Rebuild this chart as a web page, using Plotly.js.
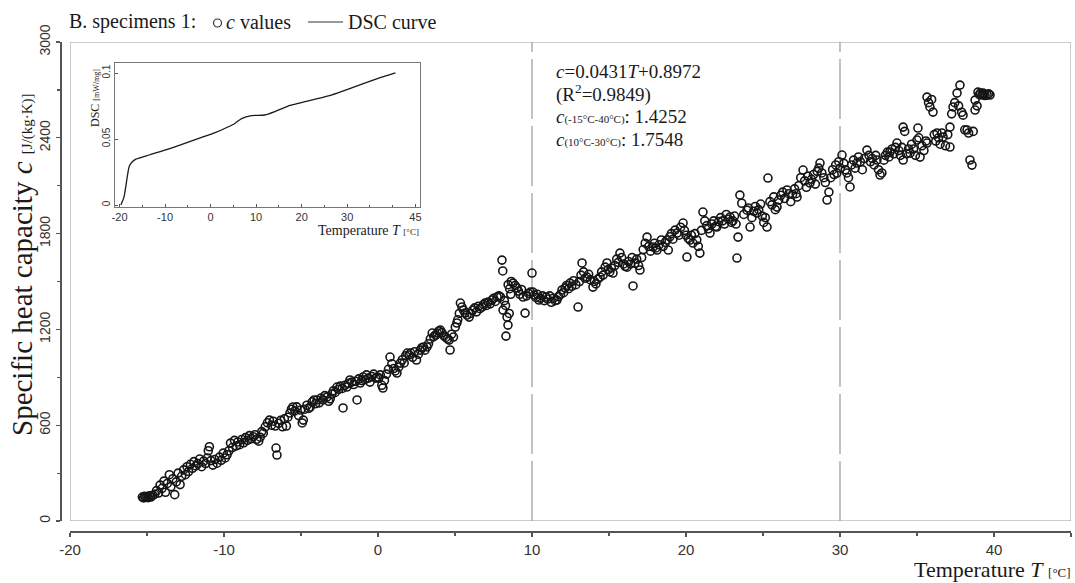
<!DOCTYPE html>
<html><head><meta charset="utf-8">
<script src="https://cdn.plot.ly/plotly-3.0.1.min.js"></script>
<style>html,body{margin:0;padding:0;background:#fff}#chart{width:1075px;height:583px}</style>
</head><body><div id="chart"></div>
<script>
// Temperature T [°C] of each measured c value
const tempC = [
-15.30,-15.22,-15.15,-15.08,-15.00,-14.92,-14.85,-14.75,-14.62,-14.50,
-14.38,-14.25,-14.15,-14.02,-13.90,-13.80,-13.68,-13.55,-13.45,
-13.32,-13.20,-13.10,-12.98,-12.85,-12.75,-12.62,-12.50,-12.40,
-12.30,-12.18,-12.05,-11.95,-11.82,-11.70,-11.58,-11.45,-11.32,
-11.20,-11.08,-11.02,-10.95,-10.85,-10.72,-10.60,-10.45,-10.30,
-10.18,-10.05,-9.92,-9.80,-9.68,-9.58,-9.45,-9.32,-9.20,
-9.10,-8.98,-8.85,-8.72,-8.60,-8.48,-8.35,-8.22,-8.10,
-8.00,-7.88,-7.75,-7.65,-7.55,-7.45,-7.32,-7.18,-7.05,
-6.92,-6.80,-6.68,-6.62,-6.56,-6.45,-6.32,-6.20,-6.08,
-5.95,-5.85,-5.72,-5.62,-5.52,-5.40,-5.28,-5.15,-5.02,
-4.92,-4.85,-4.75,-4.62,-4.50,-4.40,-4.28,-4.15,-4.05,
-3.95,-3.82,-3.70,-3.57,-3.45,-3.32,-3.20,-3.10,-3.00,
-2.90,-2.78,-2.66,-2.55,-2.45,-2.32,-2.27,-2.15,-2.02,
-1.92,-1.82,-1.70,-1.58,-1.45,-1.36,-1.25,-1.15,-1.05,
-0.97,-0.85,-0.75,-0.62,-0.52,-0.40,-0.28,-0.15,-0.05,
0.05,0.15,0.25,0.32,0.42,0.55,0.68,0.78,0.90,
1.02,1.12,1.23,1.35,1.45,1.58,1.70,1.80,1.90,
2.02,2.12,2.25,2.38,2.50,2.62,2.75,2.85,2.95,
3.05,3.18,3.28,3.40,3.52,3.62,3.75,3.85,3.95,
4.05,4.15,4.28,4.40,4.52,4.62,4.68,4.78,4.90,
5.02,5.12,5.18,5.28,5.35,5.45,5.55,5.65,5.78,5.92,
6.02,6.15,6.28,6.40,6.52,6.62,6.75,6.85,6.95,
7.05,7.15,7.28,7.40,7.50,7.62,7.73,7.85,7.95,
8.05,8.10,8.12,8.20,8.28,8.31,8.38,8.44,8.45,8.52,8.55,8.62,8.65,8.77,8.90,
9.03,9.12,9.22,9.32,9.42,9.55,9.65,9.78,9.90,10.00,
10.06,10.15,10.25,10.35,10.45,10.55,10.68,10.80,10.92,
11.02,11.15,11.25,11.38,11.50,11.62,11.72,11.85,11.95,
12.05,12.15,12.25,12.38,12.47,12.58,12.70,12.85,12.99,
13.08,13.18,13.25,13.35,13.45,13.57,13.68,13.80,13.96,
14.05,14.15,14.28,14.42,14.52,14.62,14.75,14.87,14.95,
15.05,15.15,15.26,15.38,15.50,15.60,15.71,15.82,15.95,
16.05,16.17,16.28,16.40,16.50,16.56,16.68,16.80,16.92,
17.01,17.12,17.22,17.35,17.47,17.58,17.70,17.86,17.95,
18.05,18.12,18.25,18.40,18.52,18.65,18.77,18.85,18.95,
19.05,19.15,19.29,19.42,19.55,19.65,19.81,19.90,20.00,
20.06,20.15,20.26,20.35,20.45,20.58,20.70,20.80,20.90,
21.00,21.10,21.22,21.35,21.45,21.56,21.68,21.80,21.92,
22.00,22.12,22.25,22.38,22.50,22.62,22.75,22.86,22.95,
23.05,23.15,23.25,23.31,23.38,23.50,23.62,23.75,23.96,
24.05,24.16,24.28,24.40,24.50,24.61,24.72,24.85,24.95,
25.05,25.15,25.26,25.32,25.45,25.58,25.70,25.80,25.91,
26.02,26.15,26.28,26.40,26.56,26.68,26.80,26.92,27.05,
27.15,27.21,27.32,27.45,27.60,27.70,27.82,27.92,28.05,
28.15,28.28,28.40,28.52,28.62,28.70,28.82,28.95,29.05,
29.16,29.28,29.40,29.52,29.62,29.72,29.80,29.92,30.02,
30.13,30.25,30.35,30.45,30.55,30.65,30.75,30.88,30.98,
31.10,31.20,31.32,31.45,31.58,31.75,31.88,31.98,32.10,
32.22,32.32,32.40,32.50,32.60,32.72,32.85,32.95,33.08,
33.18,33.25,33.38,33.50,33.60,33.70,33.82,33.92,34.02,
34.10,34.10,34.20,34.32,34.45,34.55,34.65,34.78,34.90,35.00,
35.06,35.12,35.20,35.32,35.45,35.58,35.65,35.65,35.75,35.84,
35.95,36.04,36.12,36.22,36.30,36.40,36.50,36.62,36.69,36.85,
37.00,37.14,37.14,37.25,37.34,37.45,37.60,37.70,37.79,37.90,
37.99,38.10,38.25,38.35,38.44,38.57,38.65,38.77,38.77,38.90,
38.96,39.05,39.12,39.22,39.29,39.35,39.42,39.55,39.65,39.74
];
// Specific heat capacity c [J/(kg·K)]
const heatCap = [
150,145,155,148,152,146,158,150,160,168,
190,175,225,205,250,180,235,290,215,
265,165,245,300,228,280,320,290,340,
310,355,330,372,345,360,388,340,375,
360,395,440,465,378,350,385,362,400,
380,425,395,415,440,488,460,505,470,
495,478,510,490,522,505,535,515,528,
540,512,500,525,560,550,590,615,632,
600,625,595,457,413,612,630,590,640,
595,650,676,700,714,690,715,660,695,
614,632,700,725,705,714,745,758,735,
758,740,770,758,785,776,750,765,795,
815,805,839,825,845,830,708,850,839,
862,883,870,855,875,758,890,864,880,
902,885,915,895,870,905,920,895,902,
895,915,850,833,880,920,950,1027,985,
955,940,927,965,989,1010,990,1035,1052,
1040,1052,1025,1060,1008,1045,1070,1085,1090,
1070,1090,1110,1140,1177,1155,1165,1177,1190,
1196,1180,1160,1150,1140,1133,1071,1170,1152,
1215,1240,1260,1300,1365,1340,1321,1302,1290,1277,
1300,1321,1335,1310,1345,1330,1340,1355,1365,
1350,1372,1360,1384,1395,1375,1403,1410,1403,
1634,1566,1321,1380,1350,1158,1277,1227,1480,1300,1455,1420,1500,1490,1475,
1459,1440,1420,1450,1403,1302,1410,1425,1434,1553,
1434,1415,1400,1420,1384,1395,1410,1380,1403,
1390,1410,1370,1395,1380,1384,1405,1420,1447,
1430,1460,1475,1455,1490,1470,1505,1480,1340,
1500,1540,1616,1560,1520,1528,1545,1510,1465,
1500,1485,1515,1528,1560,1540,1590,1616,1575,
1560,1585,1553,1600,1640,1620,1678,1650,1610,
1595,1590,1625,1610,1650,1472,1615,1640,1600,
1572,1650,1700,1740,1778,1720,1690,1716,1740,
1710,1697,1730,1760,1720,1745,1760,1697,1780,
1800,1765,1822,1803,1790,1840,1866,1820,1790,
1653,1770,1760,1790,1741,1800,1760,1720,1678,
1820,1935,1880,1850,1830,1803,1860,1880,1845,
1841,1875,1900,1880,1860,1920,1890,1904,1870,
1880,1910,1860,1647,1778,2041,1990,1920,1947,
1960,1841,1900,1940,1970,1929,1950,1985,1910,
1870,1900,1841,2148,2000,1980,2030,1950,1966,
2010,2040,2060,2020,2073,2050,2000,2045,2080,
2050,2029,2100,2150,2198,2130,2090,2160,2117,
2140,2170,2110,2190,2210,2242,2180,2150,2120,
2010,2060,2150,2200,2170,2230,2179,2250,2210,
2292,2240,2200,2180,2150,2092,2230,2260,2210,
2242,2280,2250,2200,2270,2323,2290,2250,2270,
2230,2290,2261,2200,2167,2180,2260,2290,2310,
2280,2311,2330,2300,2340,2367,2320,2290,2340,
2261,2467,2440,2300,2330,2304,2360,2330,2290,2386,
2461,2400,2279,2350,2320,2380,2367,2655,2620,2593,
2640,2561,2420,2380,2430,2400,2360,2430,2405,2350,
2420,2342,2467,2550,2593,2620,2680,2600,2730,2560,
2542,2450,2449,2430,2261,2229,2440,2574,2636,2600,
2686,2670,2680,2668,2680,2672,2665,2668,2675,2668
];
// Inset DSC curve
const dscTemp  = [-19.7,-19.0,-18.3,-17.9,-17.2,-16.4,-13.5,-9.9,-6.3,-2.6,1.0,3.9,5.4,6.8,9.0,11.9,14.1,17.0,22.8,26.5,30.1,33.7,37.4,40.6];
const dscValue = [0.0,0.0063,0.0215,0.029,0.0328,0.0348,0.0379,0.0417,0.046,0.0505,0.0548,0.0593,0.062,0.0655,0.0678,0.0682,0.0708,0.075,0.08,0.0833,0.0876,0.0922,0.0967,0.1002];

const mainXTicks = [-20,-10,0,10,20,30,40,45];
const mainXMinor = [-15,-5,5,15,25,35];
const mainYTicks = [0,600,1200,1800,2400,3000];
const mainYMinor = [300,900,1500,2100,2700];
const insetXTicks = [-20,-10,0,10,20,30,45];
const insetXMinor = [-15,-5,5,15,25,35,40];
const insetYTicks = [0,0.05,0.1];
const insetYLabels = ['0','0.05','0.1'];
const rangeLines = [10,30];

const W = 1075, H = 583, M = {l:60, r:4, t:42, b:51};
const PW = W - M.l - M.r, PH = H - M.t - M.b;
const px = x => (x - M.l) / PW;
const py = y => (H - M.b - y) / PH;

const SERIF = 'Liberation Serif, Times New Roman, serif';
const NARROW = 'Liberation Sans Narrow, Arial Narrow, Liberation Sans, sans-serif';
const TXT = '#1a1a1a';

const n = Math.min(tempC.length, heatCap.length);
const traces = [
  {type:'scatter', mode:'markers', x:tempC.slice(0,n), y:heatCap.slice(0,n), xaxis:'x', yaxis:'y',
   marker:{symbol:'circle-open', size:8, color:'#151515', line:{width:1.6, color:'#151515'}},
   hoverinfo:'skip', showlegend:false},
  {type:'scatter', mode:'lines', x:dscTemp, y:dscValue, xaxis:'x2', yaxis:'y2',
   line:{color:'#1a1a1a', width:1.3, shape:'spline', smoothing:0.5}, hoverinfo:'skip', showlegend:false}
];

const shapes = [
  {type:'rect', xref:'x', yref:'y', x0:-20, x1:45, y0:0, y1:3000, line:{color:'#9a9a9a', width:1}, layer:'below'},
  ...rangeLines.map(v => ({type:'line', xref:'x', yref:'y', x0:v, x1:v, y0:0, y1:3000,
     line:{color:'#999', width:1.2, dash:'60px,7px'}, layer:'below'})),
  {type:'circle', xref:'paper', yref:'paper', x0:px(213.5), x1:px(221.5), y0:py(27), y1:py(19), line:{color:'#333', width:1.2}},
  {type:'line', xref:'paper', yref:'paper', x0:px(308), x1:px(343), y0:py(22), y1:py(22), line:{color:'#333', width:1.2}}
];

const ann = (text, x, y, opts={}) => Object.assign({text, xref:'paper', yref:'paper', x:px(x), y:py(y),
  xanchor:'left', yanchor:'middle', showarrow:false, font:{family:SERIF, size:20, color:TXT}}, opts);

const annotations = [
  ann('B. specimens 1:', 67, 22),
  ann('<i>c</i> values', 224, 22),
  ann('DSC curve', 346, 22),
  ann('<i>c</i>=0.0431<i>T</i>+0.8972', 554, 71, {font:{family:SERIF, size:19, color:TXT}}),
  ann('(R<sup>2</sup>=0.9849)', 554, 93, {font:{family:SERIF, size:19, color:TXT}}),
  ann('<i>c</i><span style="font-size:11px">(-15°C-40°C)</span>: 1.4252', 554, 117, {font:{family:SERIF, size:19, color:TXT}}),
  ann('<i>c</i><span style="font-size:11px">(10°C-30°C)</span>: 1.7548', 554, 139, {font:{family:SERIF, size:19, color:TXT}}),
  ann('Specific heat capacity <i>c</i> <span style="font-size:15px">[J/(kg·K)]</span>', 22, 265,
      {xanchor:'center', textangle:-90, font:{family:SERIF, size:29, color:TXT}}),
  ann('Temperature <i>T</i> <span style="font-size:13px">[°C]</span>', 1073, 569,
      {xanchor:'right', font:{family:SERIF, size:22, color:TXT}}),
  ann('Temperature <i>T</i> <span style="font-size:9px">[°C]</span>', 421, 231,
      {xanchor:'right', font:{family:SERIF, size:14, color:TXT}}),
  ann('DSC <span style="font-size:8px">[mW/mg]</span>', 95, 98,
      {xanchor:'center', textangle:-90, font:{family:SERIF, size:12, color:TXT}})
];

const layout = {
  width:W, height:H, margin:M, paper_bgcolor:'#fff', plot_bgcolor:'#fff', showlegend:false,
  xaxis:{domain:[px(70),1], range:[-20,45], anchor:'free', position:0,
    showline:true, linecolor:'#555', linewidth:2, ticks:'outside', ticklen:4, tickwidth:1.2, tickcolor:'#555',
    tickmode:'array', tickvals:mainXTicks, ticktext:mainXTicks.map(String),
    tickfont:{family:NARROW, size:15, color:'#333'}, showgrid:false, zeroline:false,
    minor:{tickmode:'array', tickvals:mainXMinor, ticks:'outside', ticklen:3, tickcolor:'#555', showgrid:false}},
  yaxis:{domain:[py(521),1], range:[0,3000], anchor:'free', position:0,
    showline:true, linecolor:'#555', linewidth:1.5, ticks:'outside', ticklen:4, tickwidth:1.2, tickcolor:'#555',
    tickmode:'array', tickvals:mainYTicks, ticktext:mainYTicks.map(String), tickangle:-90,
    tickfont:{family:NARROW, size:14, color:'#333'}, showgrid:false, zeroline:false,
    minor:{tickmode:'array', tickvals:mainYMinor, ticks:'outside', ticklen:3, tickcolor:'#555', showgrid:false}},
  xaxis2:{domain:[px(115),px(420)], range:[-21,46], anchor:'y2',
    showline:true, mirror:true, linecolor:'#777', linewidth:1, ticks:'inside', ticklen:3, tickcolor:'#555',
    tickmode:'array', tickvals:insetXTicks, ticktext:insetXTicks.map(String),
    tickfont:{family:NARROW, size:11, color:'#333'}, showgrid:false, zeroline:false,
    minor:{tickmode:'array', tickvals:insetXMinor, ticks:'inside', ticklen:2, tickcolor:'#555', showgrid:false}},
  yaxis2:{domain:[py(207),py(63)], range:[-0.0015,0.1076], anchor:'x2',
    showline:true, mirror:true, linecolor:'#777', linewidth:1, ticks:'inside', ticklen:3, tickcolor:'#555',
    tickmode:'array', tickvals:insetYTicks, ticktext:insetYLabels, tickangle:-90,
    tickfont:{family:NARROW, size:10, color:'#333'}, showgrid:false, zeroline:false},
  shapes, annotations
};

Plotly.newPlot('chart', traces, layout, {displayModeBar:false, staticPlot:true});
</script>
</body></html>
